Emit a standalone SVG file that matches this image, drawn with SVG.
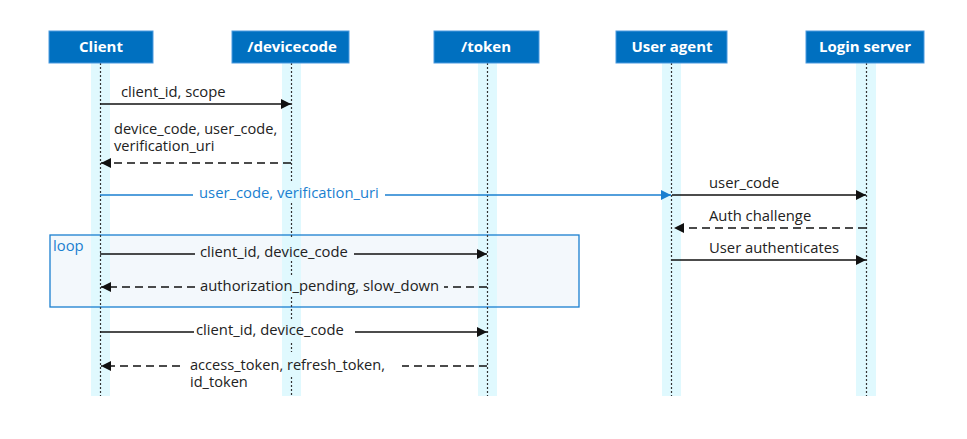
<svg xmlns="http://www.w3.org/2000/svg" width="967" height="439" viewBox="0 0 967 439">
<defs>
<style>
.hdr{fill:#0070c0;stroke:#4a9ae0;stroke-width:1}
.hdrt{font-family:"Open Sans","Noto Sans",sans-serif;font-weight:bold;font-size:15px;fill:#fff;text-anchor:middle}
.band{fill:#e0f9fe}
.life{stroke:#333;stroke-width:1.2;stroke-dasharray:2 2;fill:none}
.msg{stroke:#111;stroke-width:1.3;fill:none}
.dash{stroke-dasharray:8 5}
.blue{stroke:#1a7fd0}
.lbl{font-family:"Open Sans","Noto Sans",sans-serif;font-size:14.8px;fill:#222}
.lbl2{font-size:14.6px}
.lblb{fill:#1a7fd0}
</style>
<marker id="ah" markerUnits="userSpaceOnUse" markerWidth="10" markerHeight="10" refX="10" refY="5" orient="auto"><path d="M0,0 L10,5 L0,10 z" fill="#111"/></marker>
<marker id="ahb" markerUnits="userSpaceOnUse" markerWidth="10" markerHeight="10" refX="10" refY="5" orient="auto"><path d="M0,0 L10,5 L0,10 z" fill="#1a7fd0"/></marker>
</defs>
<rect width="967" height="439" fill="#fff"/>
<g id="loop-fill"><rect x="50" y="235" width="529" height="72" fill="#dceaf5" fill-opacity="0.35"/></g>
<g id="bands">
<rect class="band" x="91" y="63" width="19" height="333"/>
<rect class="band" x="282" y="63" width="19" height="333"/>
<rect class="band" x="478" y="63" width="19" height="333"/>
<rect class="band" x="662" y="63" width="19" height="333"/>
<rect class="band" x="856" y="63" width="20" height="333"/>
</g>
<g id="loop"><rect x="50" y="235" width="529" height="72" fill="none" stroke="#1a7fd0" stroke-width="1.3"/><text class="lbl lblb" x="53" y="251">loop</text></g>
<g id="lifelines">
<path class="life" d="M100.5,63 V396"/>
<path class="life" d="M291.5,63 V183 M291.5,203 V237 M291.5,261 V275 M291.5,297 V320 M291.5,343 V352 M291.5,377 V396"/>
<path class="life" d="M487.5,63 V396"/>
<path class="life" d="M671.5,63 V396"/>
<path class="life" d="M866.5,63 V396"/>
</g>
<g id="client"><rect class="hdr" x="49" y="31" width="104" height="32"/><text class="hdrt" x="101" y="52">Client</text></g>
<g id="devicecode"><rect class="hdr" x="232" y="31" width="117" height="32"/><text class="hdrt" x="292" y="52">/devicecode</text></g>
<g id="token"><rect class="hdr" x="434" y="31" width="105" height="32"/><text class="hdrt" x="486" y="52">/token</text></g>
<g id="useragent"><rect class="hdr" x="616" y="31" width="111" height="32"/><text class="hdrt" x="672" y="52">User agent</text></g>
<g id="loginserver"><rect class="hdr" x="806" y="31" width="118" height="32"/><text class="hdrt" x="865" y="52">Login server</text></g>
<g id="connectors">
<path class="msg" d="M100,104 H291" marker-end="url(#ah)"/>
<text class="lbl" x="121" y="97">client_id, scope</text>
<path class="msg dash" d="M291,163 H101" marker-end="url(#ah)"/>
<text class="lbl lbl2" x="114" y="133.5">device_code, user_code,</text>
<text class="lbl lbl2" x="114" y="151">verification_uri</text>
<path class="msg blue" d="M100,195 H193"/>
<path class="msg blue" d="M385,195 H671" marker-end="url(#ahb)"/>
<text class="lbl lblb" x="199" y="198">user_code, verification_uri</text>
<path class="msg" d="M672,195 H866" marker-end="url(#ah)"/>
<text class="lbl" x="709" y="188">user_code</text>
<path class="msg dash" d="M866,228 H674" marker-end="url(#ah)"/>
<text class="lbl" x="709" y="221">Auth challenge</text>
<path class="msg" d="M672,260 H866" marker-end="url(#ah)"/>
<text class="lbl" x="709" y="253">User authenticates</text>
<path class="msg" d="M100,254 H195"/>
<path class="msg" d="M354,254 H487" marker-end="url(#ah)"/>
<text class="lbl" x="200" y="257">client_id, device_code</text>
<path class="msg dash" d="M487,287 H444"/>
<path class="msg dash" d="M195,287 H101" marker-end="url(#ah)"/>
<text class="lbl" x="200" y="291">authorization_pending, slow_down</text>
<path class="msg" d="M100,332 H194"/>
<path class="msg" d="M355,332 H487" marker-end="url(#ah)"/>
<text class="lbl" x="196" y="335">client_id, device_code</text>
<path class="msg dash" d="M487,366 H402"/>
<path class="msg dash" d="M180,366 H101" marker-end="url(#ah)"/>
<text class="lbl lbl2" x="190" y="369.5">access_token, refresh_token,</text>
<text class="lbl lbl2" x="190" y="387">id_token</text>
</g>
</svg>
